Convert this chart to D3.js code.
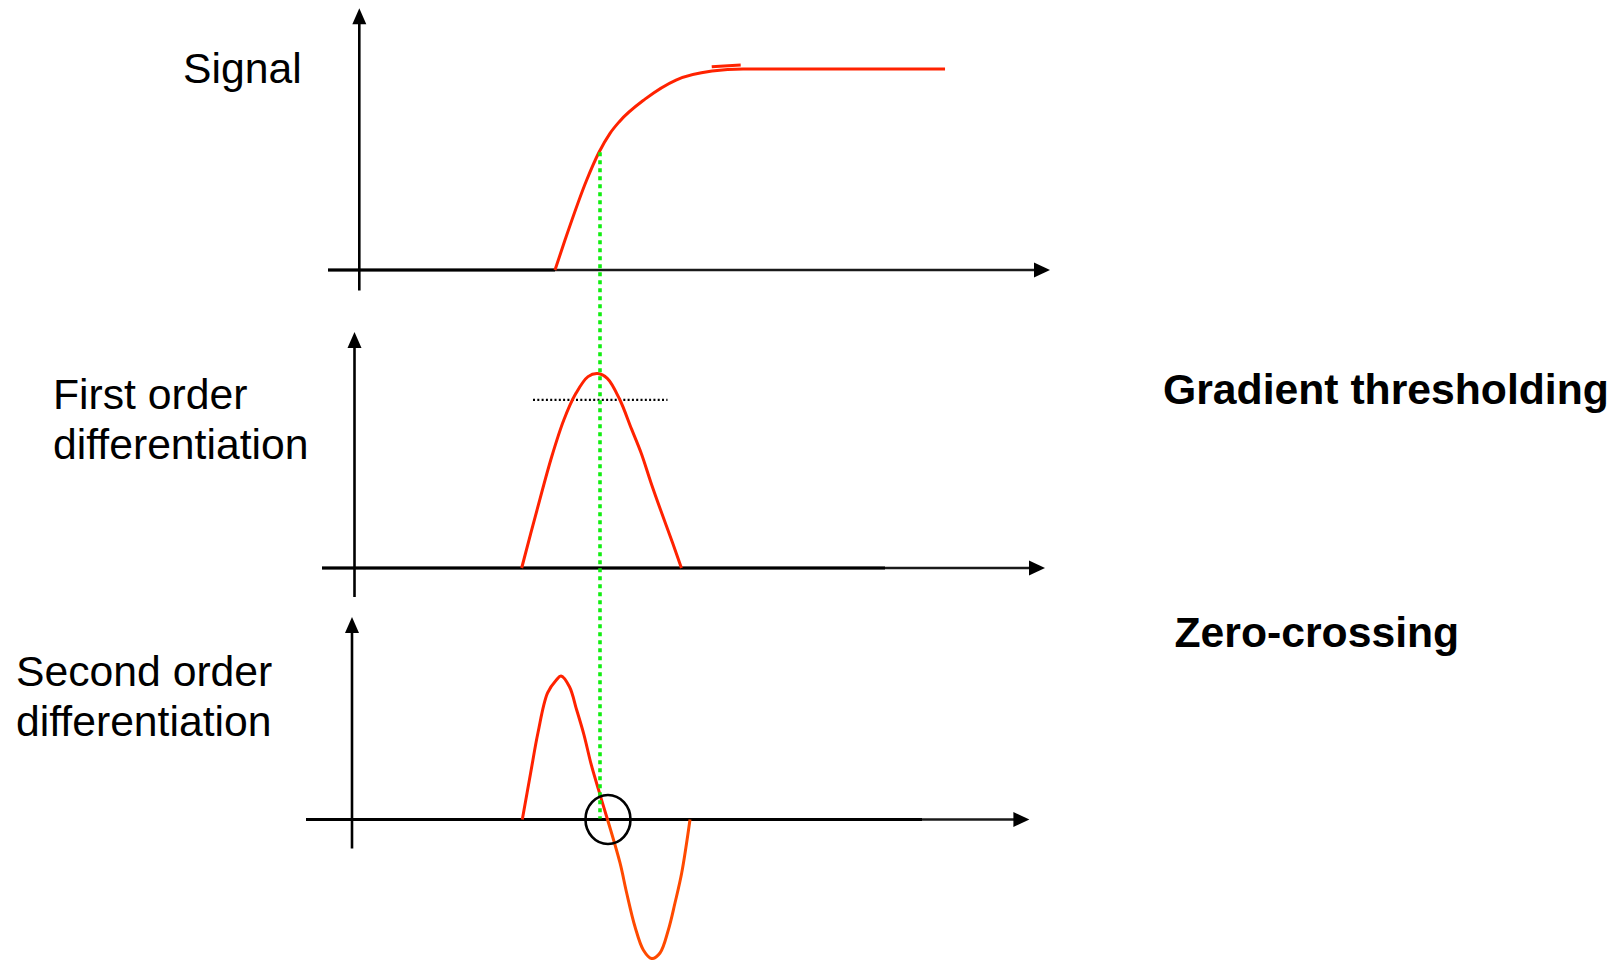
<!DOCTYPE html>
<html><head><meta charset="utf-8">
<script src="https://cdn.jsdelivr.net/npm/d3@7"></script>
<style>html,body{margin:0;padding:0;background:#fff;overflow:hidden}</style>
</head><body><svg id="c" width="1619" height="960"></svg>
<script>
// ---- data (t = shared time units, v = normalised amplitude) ----
const signalT = [28.57, 30.0, 33.1, 34.86, 36.43, 37.76, 41.43, 45.86, 51.0, 55.43, 84.29];
const signalV = [0, 0.149, 0.448, 0.586, 0.680, 0.738, 0.850, 0.945, 0.990, 1.0, 1.0];
const signalGlitchT = [50.96, 55.1];
const signalGlitchV = [1.011, 1.02];

const firstT = [23.81, 26.0, 28.1, 29.83, 31.56, 33.29, 34.67, 36.04, 37.77, 39.5, 40.89, 42.27, 43.66, 45.39, 46.63];
const firstV = [0, 0.298, 0.572, 0.761, 0.898, 0.984, 1.0, 0.975, 0.870, 0.715, 0.590, 0.440, 0.298, 0.127, 0];

const secondUpT = [23.9, 25.09, 26.13, 27.51, 28.76, 29.43, 30.64, 31.67, 32.71, 33.76, 34.8, 36.07];
const secondUpV = [0, 0.324, 0.603, 0.882, 0.972, 1.0, 0.925, 0.763, 0.590, 0.380, 0.206, 0];
const secondLowT = [36.07, 37.86, 38.81, 40.0, 41.19, 42.39, 43.57, 44.76, 45.71, 46.67, 47.86];
const secondLowV = [0, -0.303, -0.512, -0.747, -0.909, -0.969, -0.930, -0.770, -0.582, -0.373, 0];

const thresholdT = [25.43, 44.64];
const thresholdV = 0.864;
const edgeT = 35.0;
const edgeSignalV = 0.586;
const crossingT = 36.14;

const panelLabels = [["Signal"], ["First order", "differentiation"], ["Second order", "differentiation"]];
const methodLabels = ["Gradient thresholding", "Zero-crossing"];

// ---- layout ----
const svg = d3.select("#c");
const x = d3.scaleLinear().domain([0, 100]).range([355, 1055]);
const panels = [
  {y: d3.scaleLinear().domain([0, 1]).range([270, 69]), ax0: 328, ax1: 1050, yx: 359.3, ytop: 8.3, ybot: 290.5, zeroEnd: 555,
   label: {x: 183, y: [83]}},
  {y: d3.scaleLinear().domain([0, 1]).range([568, 373.5]), ax0: 322, ax1: 1045, yx: 354.5, ytop: 332, ybot: 597, zeroEnd: 885,
   label: {x: 53, y: [409, 459]}},
  {y: d3.scaleLinear().domain([0, 1]).range([819.5, 676]), ax0: 306, ax1: 1029.4, yx: 352, ytop: 617, ybot: 848.5, zeroEnd: 922,
   label: {x: 16, y: [686, 736]}}
];
const methodPos = [{x: 1163, y: 404}, {x: 1174.5, y: 647}];
const font = "'Liberation Sans', Arial, Helvetica, sans-serif";
const fontSize = 42.7;

panels.forEach((p, i) => {
  const g = svg.append("g");
  const y0 = p.y(0);
  g.append("line").attr("x1", p.ax0).attr("x2", p.ax1 - 12).attr("y1", y0).attr("y2", y0)
    .attr("stroke", "#1a1a1a").attr("stroke-width", 2.6);
  g.append("line").attr("x1", p.ax0).attr("x2", p.zeroEnd).attr("y1", y0).attr("y2", y0)
    .attr("stroke", "#000").attr("stroke-width", 3.2);
  g.append("path").attr("d", `M${p.ax1},${y0}L${p.ax1 - 16},${y0 - 7.5}L${p.ax1 - 16},${y0 + 7.5}Z`).attr("fill", "#000");
  g.append("line").attr("x1", p.yx).attr("x2", p.yx).attr("y1", p.ybot).attr("y2", p.ytop + 12)
    .attr("stroke", "#000").attr("stroke-width", 2.6);
  g.append("path").attr("d", `M${p.yx},${p.ytop}L${p.yx - 7},${p.ytop + 16}L${p.yx + 7},${p.ytop + 16}Z`).attr("fill", "#000");
  const t = g.append("text").attr("font-family", font).attr("font-size", fontSize).attr("fill", "#000");
  panelLabels[i].forEach((s, k) => t.append("tspan").attr("x", p.label.x).attr("y", p.label.y[k]).text(s));
});

methodLabels.forEach((s, i) => {
  svg.append("text").attr("x", methodPos[i].x).attr("y", methodPos[i].y)
    .attr("font-family", font).attr("font-size", fontSize).attr("font-weight", "bold").attr("fill", "#000").text(s);
});

const zip = (ts, vs) => ts.map((t, i) => [t, vs[i]]);
const lineFor = (ys, curve) => d3.line().x(d => x(d[0])).y(d => ys(d[1])).curve(curve || d3.curveCatmullRom.alpha(0.5));

svg.append("line").attr("x1", x(thresholdT[0])).attr("x2", x(thresholdT[1]))
  .attr("y1", panels[1].y(thresholdV)).attr("y2", panels[1].y(thresholdV))
  .attr("stroke", "#000").attr("stroke-width", 2.2).attr("stroke-dasharray", "2,2.3");

svg.append("path").attr("d", lineFor(panels[0].y, d3.curveMonotoneX)(zip(signalT, signalV)))
  .attr("fill", "none").attr("stroke", "#ff2200").attr("stroke-width", 3);
svg.append("path").attr("d", d3.line().x(d => x(d[0])).y(d => panels[0].y(d[1]))(zip(signalGlitchT, signalGlitchV)))
  .attr("fill", "none").attr("stroke", "#ff2200").attr("stroke-width", 3);
svg.append("path").attr("d", lineFor(panels[1].y)(zip(firstT, firstV)))
  .attr("fill", "none").attr("stroke", "#ff2200").attr("stroke-width", 3);
svg.append("path").attr("d", lineFor(panels[2].y)(zip(secondUpT, secondUpV)))
  .attr("fill", "none").attr("stroke", "#ff2200").attr("stroke-width", 3);
svg.append("path").attr("d", lineFor(panels[2].y)(zip(secondLowT, secondLowV)))
  .attr("fill", "none").attr("stroke", "#ff4a00").attr("stroke-width", 3);

svg.append("line").attr("x1", x(edgeT)).attr("x2", x(edgeT))
  .attr("y1", panels[0].y(edgeSignalV)).attr("y2", panels[2].y(0) - 1)
  .attr("stroke", "#11ee11").attr("stroke-width", 3.6).attr("stroke-dasharray", "4,4");

svg.append("ellipse").attr("cx", x(crossingT)).attr("cy", panels[2].y(0))
  .attr("rx", 22.5).attr("ry", 24.5).attr("fill", "none").attr("stroke", "#000").attr("stroke-width", 2.6);
</script></body></html>
